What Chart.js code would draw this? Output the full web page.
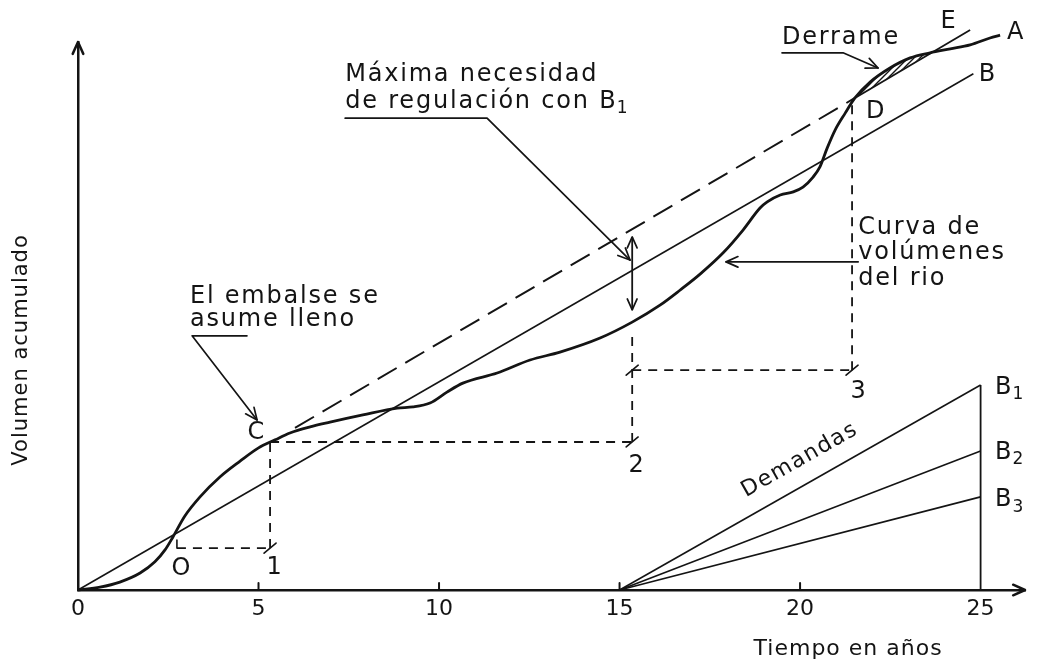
<!DOCTYPE html>
<html>
<head>
<meta charset="utf-8">
<title>Curva de volúmenes acumulados</title>
<script src="https://cdn.jsdelivr.net/npm/chart.js@4.4.1/dist/chart.umd.min.js"></script>
<style>
  html, body { margin: 0; padding: 0; background: #fff; }
  #wrap { width: 1043px; height: 663px; position: relative; }
</style>
</head>
<body>
<div id="wrap"><canvas id="chart"></canvas></div>
<script>
// x: años, y: volumen acumulado (misma escala que el eje x)
const xTickValues = [0, 5, 10, 15, 20, 25];
const xTickLabels = ['0', '5', '10', '15', '20', '25'];

// curva de volúmenes del rio (A)
const riverYears = [0, 0.61, 1.16, 1.72, 2.13, 2.41, 2.63, 2.96, 3.38, 3.93, 4.49, 4.99, 5.46, 5.87, 6.43, 6.98, 7.89, 8.84, 9.28, 9.75, 10.22, 10.66, 11.61, 12.52, 13.35, 14.46, 15.35, 16.12, 16.68, 17.23, 17.87, 18.42, 18.89, 19.09, 19.45, 19.81, 20.08, 20.36, 20.55, 20.75, 20.97, 21.25, 21.52, 21.94, 22.49, 23.05, 23.60, 24.16, 24.71, 25.26, 25.54];
const riverVolumes = [0, 0.08, 0.22, 0.47, 0.78, 1.11, 1.47, 2.05, 2.58, 3.13, 3.57, 3.93, 4.16, 4.35, 4.52, 4.65, 4.85, 5.04, 5.07, 5.18, 5.48, 5.73, 6.01, 6.37, 6.59, 6.98, 7.42, 7.89, 8.31, 8.75, 9.34, 9.97, 10.58, 10.75, 10.94, 11.03, 11.16, 11.44, 11.72, 12.24, 12.74, 13.21, 13.63, 14.07, 14.46, 14.74, 14.88, 14.99, 15.10, 15.29, 15.37];

// demanda B (recta desde el origen)
const demandBYears = [0, 24.8];
const demandBVolumes = [0, 14.3];

// tangente paralela a B desde C hasta D, y su prolongación hasta E
const tangentYears = [6.01, 21.52];
const tangentVolumes = [4.49, 13.63];
const spillLineYears = [21.52, 24.71];
const spillLineVolumes = [13.63, 15.51];

// derrame (zona rayada entre la curva y la recta DE)
const spillYears = [21.52, 21.94, 22.49, 23.05, 23.60];
const spillTop = [13.63, 14.07, 14.46, 14.74, 14.88];
const spillBottom = [13.63, 13.88, 14.21, 14.55, 14.88];

// líneas auxiliares a trazos (O-1, 1-C, C-2, 2, 2-3, 3-D)
const guideLines = [
  { years: [2.74, 5.32], volumes: [1.16, 1.16] },
  { years: [5.32, 5.32], volumes: [1.16, 4.10] },
  { years: [5.32, 15.35], volumes: [4.10, 4.10] },
  { years: [15.35, 15.35], volumes: [4.10, 7.10] },
  { years: [15.35, 21.44], volumes: [6.09, 6.09] },
  { years: [21.44, 21.44], volumes: [6.09, 13.55] }
];

// máxima necesidad de regulación (flecha doble)
const regulationYears = [15.35, 15.35];
const regulationVolumes = [7.76, 9.78];

// demandas B1, B2, B3 entre los años 15 y 25
const demandYears = [15, 25];
const demandB1 = [0, 5.68];
const demandB2 = [0, 3.85];
const demandB3 = [0, 2.58];

const INK = '#141414';
const FONT = '"DejaVu Sans", sans-serif';

function pts(xs, ys) {
  return xs.map((x, i) => ({ x: x, y: ys[i] }));
}

function line(xs, ys, width, dash) {
  return {
    data: pts(xs, ys),
    showLine: true,
    pointRadius: 0,
    borderColor: INK,
    borderWidth: width,
    borderDash: dash || [],
    fill: false,
    clip: false
  };
}

function hatchPattern() {
  const c = document.createElement('canvas');
  c.width = 6; c.height = 6;
  const g = c.getContext('2d');
  g.strokeStyle = INK;
  g.lineWidth = 1.4;
  g.beginPath();
  g.moveTo(0, 6); g.lineTo(6, 0);
  g.moveTo(-3, 3); g.lineTo(3, -3);
  g.moveTo(3, 9); g.lineTo(9, 3);
  g.stroke();
  return g.createPattern(c, 'repeat');
}

const river = line(riverYears, riverVolumes, 2.8);
river.cubicInterpolationMode = 'monotone';

const spillUpper = line(spillYears, spillTop, 0);
spillUpper.cubicInterpolationMode = 'monotone';
spillUpper.fill = { target: 5 };
spillUpper.backgroundColor = hatchPattern();
const spillLower = line(spillYears, spillBottom, 0);

const datasets = [
  river,
  line(demandBYears, demandBVolumes, 1.6),
  line(tangentYears, tangentVolumes, 2, [22, 10]),
  line(spillLineYears, spillLineVolumes, 1.8),
  spillUpper,
  spillLower,
  line(regulationYears, regulationVolumes, 1.8),
  line(demandYears, demandB1, 1.6),
  line(demandYears, demandB2, 1.6),
  line(demandYears, demandB3, 1.6),
  line([25, 25], [0, demandB1[1]], 1.8)
];
guideLines.forEach(g => datasets.push(line(g.years, g.volumes, 1.8, [9, 7])));

// textos y flechas del croquis, en coordenadas de datos
const notes = [
  { t: 'Máxima necesidad', x: 7.40, y: 14.27 },
  { t: 'de regulación con B', sub: '1', x: 7.40, y: 13.52 },
  { t: 'El embalse se', x: 3.10, y: 8.12 },
  { t: 'asume lleno', x: 3.10, y: 7.48 },
  { t: 'Curva de', x: 21.61, y: 10.03 },
  { t: 'volúmenes', x: 21.61, y: 9.34 },
  { t: 'del rio', x: 21.61, y: 8.61 },
  { t: 'Derrame', x: 19.50, y: 15.29 },
  { t: 'C', x: 4.93, y: 4.35, c: true },
  { t: 'D', x: 22.08, y: 13.24, c: true },
  { t: 'E', x: 24.10, y: 15.73, c: true },
  { t: 'A', x: 25.96, y: 15.43, c: true },
  { t: 'B', x: 25.18, y: 14.27, c: true },
  { t: 'O', x: 2.85, y: 0.58, c: true },
  { t: '1', x: 5.43, y: 0.61, c: true },
  { t: '2', x: 15.46, y: 3.43, c: true },
  { t: '3', x: 21.61, y: 5.48, c: true },
  { t: 'B', sub: '1', x: 25.40, y: 5.60, c: false, tight: true },
  { t: 'B', sub: '2', x: 25.40, y: 3.80, tight: true },
  { t: 'B', sub: '3', x: 25.40, y: 2.49, tight: true }
];

const leaders = [
  [[7.40, 13.07], [11.33, 13.07], [15.29, 9.14]],
  [[4.68, 7.04], [3.16, 7.04], [4.96, 4.71]],
  [[21.61, 9.09], [17.95, 9.09]],
  [[19.50, 14.88], [21.19, 14.88], [22.16, 14.46]]
];

const crossMarks = [[5.32, 1.16], [15.35, 4.10], [15.35, 6.09], [21.44, 6.09]];

function head(ctx, x1, y1, x2, y2, size) {
  const a = Math.atan2(y2 - y1, x2 - x1);
  ctx.beginPath();
  ctx.moveTo(x2 - size * Math.cos(a - 0.42), y2 - size * Math.sin(a - 0.42));
  ctx.lineTo(x2, y2);
  ctx.lineTo(x2 - size * Math.cos(a + 0.42), y2 - size * Math.sin(a + 0.42));
  ctx.stroke();
}

const sketchNotes = {
  id: 'sketchNotes',
  afterDatasetsDraw(chart) {
    const ctx = chart.ctx;
    const sx = chart.scales.x, sy = chart.scales.y;
    const px = v => sx.getPixelForValue(v);
    const py = v => sy.getPixelForValue(v);
    ctx.save();
    ctx.strokeStyle = INK;
    ctx.fillStyle = INK;
    ctx.lineCap = 'round';
    ctx.lineJoin = 'round';

    // flechas de los ejes
    ctx.lineWidth = 2.5;
    head(ctx, px(0), py(0), px(0), py(sy.max), 13);
    head(ctx, px(0), py(0), px(sx.max), py(0), 13);

    // marcas de los años sobre el eje
    ctx.lineWidth = 2;
    [5, 10, 15, 20].forEach(v => {
      ctx.beginPath();
      ctx.moveTo(px(v), py(0));
      ctx.lineTo(px(v), py(0) - 7);
      ctx.stroke();
    });

    // flechas de las leyendas
    ctx.lineWidth = 1.7;
    leaders.forEach(l => {
      ctx.beginPath();
      l.forEach((p, i) => i ? ctx.lineTo(px(p[0]), py(p[1])) : ctx.moveTo(px(p[0]), py(p[1])));
      ctx.stroke();
      const a = l[l.length - 2], b = l[l.length - 1];
      head(ctx, px(a[0]), py(a[1]), px(b[0]), py(b[1]), 13);
    });

    // flecha doble de regulación
    const rx = px(regulationYears[0]);
    head(ctx, rx, py(regulationVolumes[1]), rx, py(regulationVolumes[0]), 12);
    head(ctx, rx, py(regulationVolumes[0]), rx, py(regulationVolumes[1]), 12);

    // marcas en los cruces de las líneas auxiliares
    ctx.lineWidth = 1.6;
    crossMarks.forEach(m => {
      const x = px(m[0]), y = py(m[1]);
      ctx.beginPath();
      ctx.moveTo(x - 6, y + 5);
      ctx.lineTo(x + 6, y - 5);
      ctx.stroke();
    });
    const ox = px(guideLines[0].years[0]), oy = py(guideLines[0].volumes[0]);
    ctx.beginPath();
    ctx.moveTo(ox, oy - 8);
    ctx.lineTo(ox, oy);
    ctx.stroke();

    // textos
    ctx.textBaseline = 'middle';
    notes.forEach(n => {
      const spacing = (n.c || n.tight) ? 0 : 1.8;
      ctx.font = '24px ' + FONT;
      ctx.letterSpacing = spacing + 'px';
      ctx.textAlign = n.c ? 'center' : 'left';
      const x = px(n.x), y = py(n.y);
      ctx.fillText(n.t, x, y);
      if (n.sub) {
        const w = ctx.measureText(n.t).width - spacing;
        ctx.font = '17px ' + FONT;
        ctx.letterSpacing = '0px';
        ctx.textAlign = 'left';
        ctx.fillText(n.sub, x + w + 1, y + 7);
      }
    });

    // Demandas, a lo largo de B1
    const ang = Math.atan2(py(demandB1[1]) - py(demandB1[0]), px(demandYears[1]) - px(demandYears[0]));
    ctx.save();
    ctx.translate(px(19.99), py(3.60));
    ctx.rotate(ang);
    ctx.font = '22px ' + FONT;
    ctx.letterSpacing = '1.5px';
    ctx.textAlign = 'center';
    ctx.fillText('Demandas', 0, 0);
    ctx.restore();

    // títulos de los ejes
    ctx.font = '22px ' + FONT;
    ctx.letterSpacing = '1px';
    ctx.textAlign = 'center';
    ctx.fillText('Tiempo en años', px(21.33), py(-1.64));
    ctx.save();
    ctx.translate(px(-1.55), py(6.65));
    ctx.rotate(-Math.PI / 2);
    ctx.font = '21px ' + FONT;
    ctx.letterSpacing = '1px';
    ctx.fillText('Volumen acumulado', 0, 0);
    ctx.restore();

    ctx.restore();
  }
};

new Chart(document.getElementById('chart'), {
  type: 'scatter',
  data: { datasets: datasets },
  options: {
    responsive: true,
    maintainAspectRatio: false,
    animation: false,
    events: [],
    layout: { padding: { top: 42, right: 18, left: 0, bottom: 0 } },
    plugins: { legend: { display: false }, tooltip: { enabled: false } },
    scales: {
      x: {
        type: 'linear',
        min: 0,
        max: 26.23,
        afterFit: s => { s.height = 73; },
        afterBuildTicks: s => { s.ticks = xTickValues.map(v => ({ value: v })); },
        grid: { display: false, drawTicks: false },
        border: { display: true, color: INK, width: 2.5 },
        ticks: {
          padding: 6,
          maxRotation: 0,
          autoSkip: false,
          color: INK,
          font: { family: 'DejaVu Sans', size: 22 },
          callback: (v, i) => xTickLabels[i]
        }
      },
      y: {
        type: 'linear',
        min: 0,
        max: 15.18,
        afterFit: s => { s.width = 78; },
        grid: { display: false, drawTicks: false },
        border: { display: true, color: INK, width: 2.5 },
        ticks: { display: false }
      }
    }
  },
  plugins: [sketchNotes]
});
</script>
</body>
</html>
